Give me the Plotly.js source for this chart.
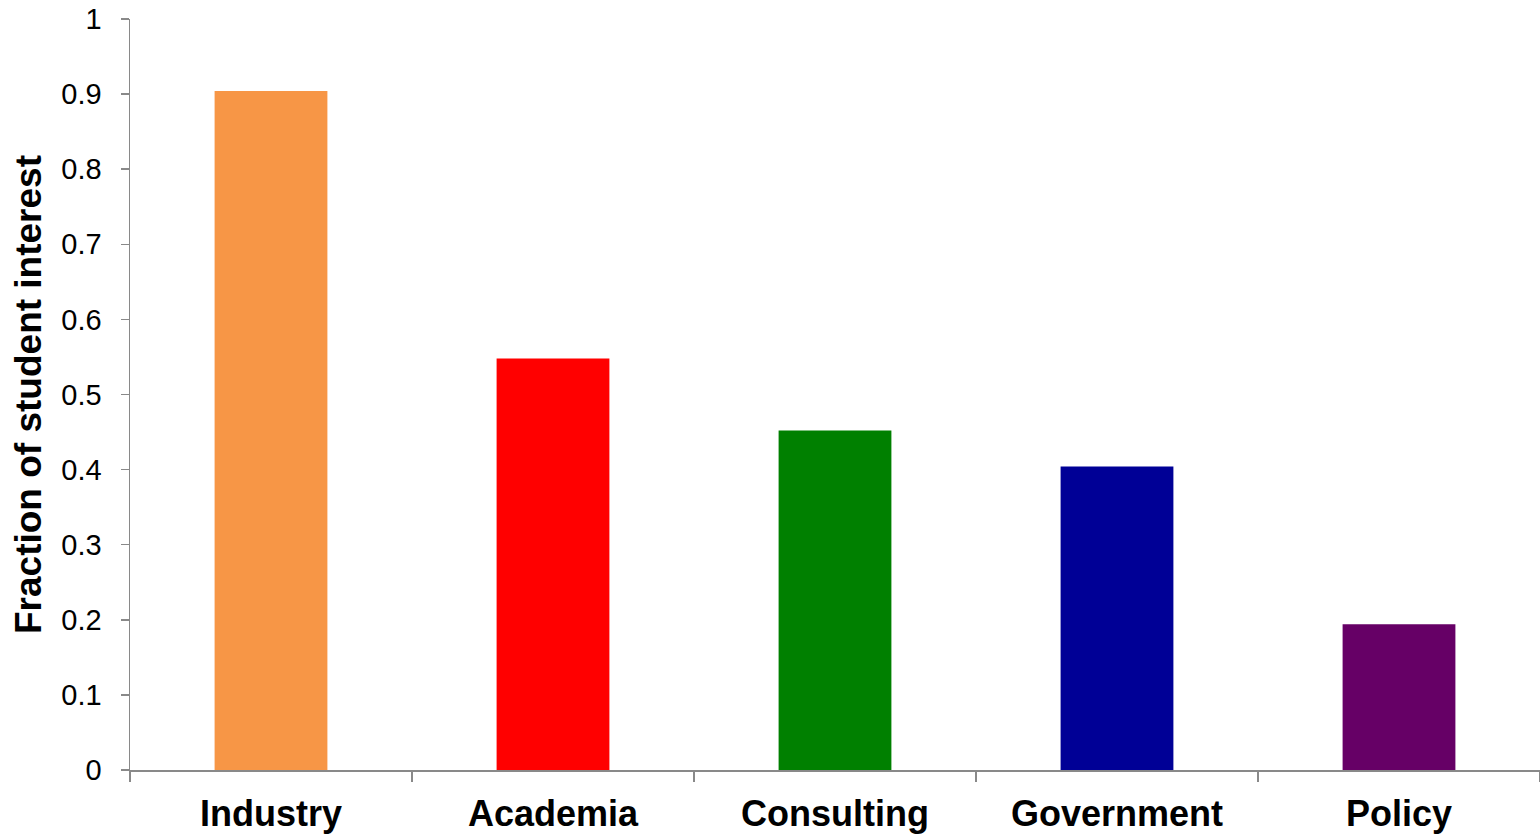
<!DOCTYPE html>
<html>
<head>
<meta charset="utf-8">
<script src="https://cdn.plot.ly/plotly-3.0.1.min.js"></script>
<style>
html,body{margin:0;padding:0;background:#fff;}
#chart{width:1540px;height:837px;}
</style>
</head>
<body>
<div id="chart"></div>
<script>
const categories = ["Industry", "Academia", "Consulting", "Government", "Policy"];
const values = [0.904, 0.548, 0.452, 0.404, 0.194];
const barColors = ["#F79646", "#FF0000", "#008000", "#000096", "#660066"];
const yTickVals = [0, 0.1, 0.2, 0.3, 0.4, 0.5, 0.6, 0.7, 0.8, 0.9, 1];
const yTickText = ["0", "0.1", "0.2", "0.3", "0.4", "0.5", "0.6", "0.7", "0.8", "0.9", "1"];

const trace = {
  type: "bar",
  x: categories,
  y: values,
  marker: {color: barColors, line: {width: 0}},
  hoverinfo: "x+y"
};

const axisColor = "#898989";
const layout = {
  width: 1540,
  height: 837,
  margin: {l: 130, r: 0, t: 19, b: 67, pad: 0},
  paper_bgcolor: "#ffffff",
  plot_bgcolor: "#ffffff",
  showlegend: false,
  bargap: 0.6,
  font: {family: "Liberation Sans, Arial, sans-serif", color: "#000"},
  xaxis: {
    type: "category",
    range: [-0.5, 4.5],
    showline: true,
    linecolor: axisColor,
    linewidth: 1.5,
    ticks: "outside",
    tickson: "boundaries",
    ticklen: 10,
    tickwidth: 1.5,
    tickcolor: axisColor,
    showgrid: false,
    zeroline: false,
    tickfont: {family: "Liberation Sans, Arial, sans-serif", size: 36, color: "#000", weight: "bold"},
    ticklabelstandoff: 11,
    fixedrange: true
  },
  yaxis: {
    range: [0, 1],
    tickvals: yTickVals,
    ticktext: yTickText,
    showline: true,
    linecolor: axisColor,
    linewidth: 1.5,
    ticks: "outside",
    ticklen: 8,
    tickwidth: 1.5,
    tickcolor: axisColor,
    showgrid: false,
    zeroline: false,
    tickfont: {family: "Liberation Sans, Arial, sans-serif", size: 29, color: "#000"},
    ticklabelstandoff: 13,
    title: {
      text: "Fraction of student interest",
      font: {family: "Liberation Sans, Arial, sans-serif", size: 37, color: "#000", weight: "bold"},
      standoff: 8
    },
    fixedrange: true
  }
};

Plotly.newPlot("chart", [trace], layout, {displayModeBar: false, staticPlot: true});
</script>
</body>
</html>
